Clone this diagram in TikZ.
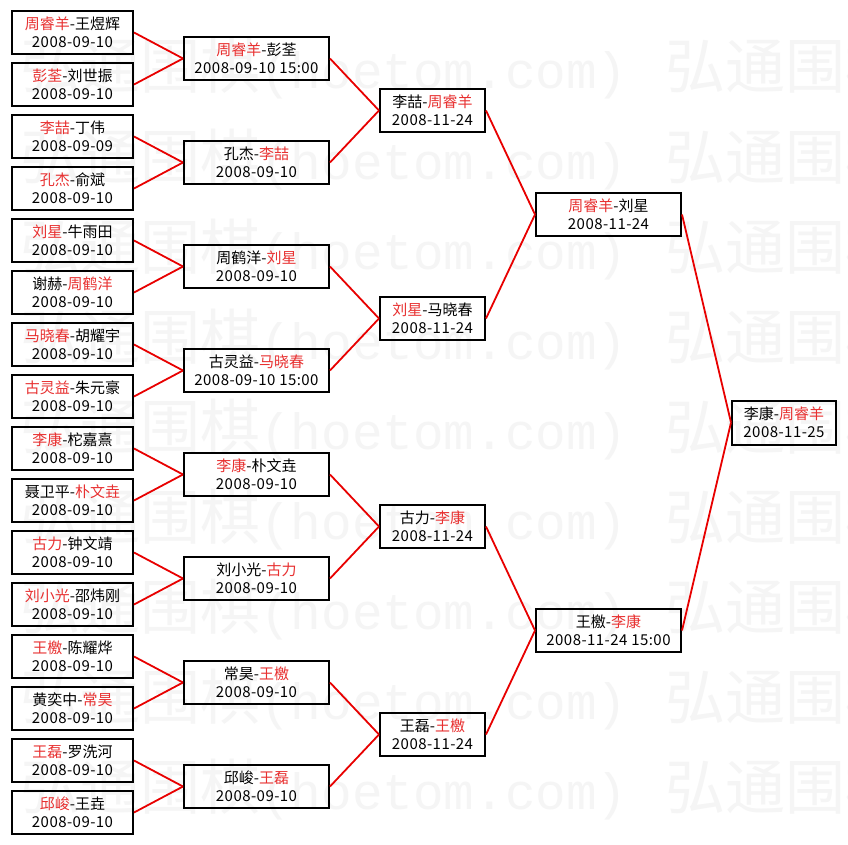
\documentclass[tikz,border=0pt]{standalone}
\usepackage{fontspec}
\setmainfont{Noto Sans CJK SC}
\newfontfamily\wmmono{Liberation Mono}
\newfontfamily\datef[LetterSpace=3]{Noto Sans CJK SC}
\definecolor{wred}{RGB}{232,48,48}
\definecolor{lred}{RGB}{232,0,0}
\definecolor{wmgray}{RGB}{245,245,245}
\newcommand\rn[1]{\textcolor{wred}{#1}}
\newcommand\dt[1]{{\datef #1}}
\begin{document}
\begin{tikzpicture}[x=1pt,y=-1pt,
  box/.style={draw=black,line width=2pt,inner sep=0pt,align=center,text=black,
    font=\fontsize{15}{18}\selectfont,minimum height=43pt},
  rA/.style={box,minimum width=121pt},
  rB/.style={box,minimum width=145pt},
  rC/.style={box,minimum width=105pt},
  rD/.style={box,minimum width=145pt},
  rE/.style={box,minimum width=104pt,minimum height=44pt},
  conn/.style={draw=lred,line width=1.8pt},
  wmcjk/.style={text=wmgray,inner sep=0pt,anchor=base west,font=\fontsize{60}{60}\selectfont},
  wmasc/.style={text=wmgray,inner sep=0pt,anchor=base west,font=\wmmono\fontsize{51}{51}\selectfont}]
\useasboundingbox (0,0) rectangle (848,845);
\fill[white] (0,0) rectangle (848,845);
% watermark
\begin{scope}
\clip (0,0) rectangle (848,845);
\foreach \r in {0,...,8}{
  \pgfmathsetmacro\wy{67+90*\r+22}
  \node[wmcjk] (wma\r) at (20,\wy) {弘通围棋};
  \node[wmasc] (wmb\r) at (260,\wy) {(hoetom.com)};
  \node[wmcjk] (wmc\r) at (665,\wy) {弘通围棋};
}
\end{scope}
% round 1
\node[rA] (a1)  at (72.5,32.5)  {\rn{周睿羊}-王煜辉\\\dt{2008-09-10}};
\node[rA] (a2)  at (72.5,84.5)  {\rn{彭荃}-刘世振\\\dt{2008-09-10}};
\node[rA] (a3)  at (72.5,136.5) {\rn{李喆}-丁伟\\\dt{2008-09-09}};
\node[rA] (a4)  at (72.5,188.5) {\rn{孔杰}-俞斌\\\dt{2008-09-10}};
\node[rA] (a5)  at (72.5,240.5) {\rn{刘星}-牛雨田\\\dt{2008-09-10}};
\node[rA] (a6)  at (72.5,292.5) {谢赫-\rn{周鹤洋}\\\dt{2008-09-10}};
\node[rA] (a7)  at (72.5,344.5) {\rn{马晓春}-胡耀宇\\\dt{2008-09-10}};
\node[rA] (a8)  at (72.5,396.5) {\rn{古灵益}-朱元豪\\\dt{2008-09-10}};
\node[rA] (a9)  at (72.5,448.5) {\rn{李康}-柁嘉熹\\\dt{2008-09-10}};
\node[rA] (a10) at (72.5,500.5) {聂卫平-\rn{朴文垚}\\\dt{2008-09-10}};
\node[rA] (a11) at (72.5,552.5) {\rn{古力}-钟文靖\\\dt{2008-09-10}};
\node[rA] (a12) at (72.5,604.5) {\rn{刘小光}-邵炜刚\\\dt{2008-09-10}};
\node[rA] (a13) at (72.5,656.5) {\rn{王檄}-陈耀烨\\\dt{2008-09-10}};
\node[rA] (a14) at (72.5,708.5) {黄奕中-\rn{常昊}\\\dt{2008-09-10}};
\node[rA] (a15) at (72.5,760.5) {\rn{王磊}-罗洗河\\\dt{2008-09-10}};
\node[rA] (a16) at (72.5,812.5) {\rn{邱峻}-王垚\\\dt{2008-09-10}};
% round 2
\node[rB] (b1) at (256.5,58.5)  {\rn{周睿羊}-彭荃\\\dt{2008-09-10 15:00}};
\node[rB] (b2) at (256.5,162.5) {孔杰-\rn{李喆}\\\dt{2008-09-10}};
\node[rB] (b3) at (256.5,266.5) {周鹤洋-\rn{刘星}\\\dt{2008-09-10}};
\node[rB] (b4) at (256.5,370.5) {古灵益-\rn{马晓春}\\\dt{2008-09-10 15:00}};
\node[rB] (b5) at (256.5,474.5) {\rn{李康}-朴文垚\\\dt{2008-09-10}};
\node[rB] (b6) at (256.5,578.5) {刘小光-\rn{古力}\\\dt{2008-09-10}};
\node[rB] (b7) at (256.5,682.5) {常昊-\rn{王檄}\\\dt{2008-09-10}};
\node[rB] (b8) at (256.5,786.5) {邱峻-\rn{王磊}\\\dt{2008-09-10}};
% round 3
\node[rC] (c1) at (432.5,110.5) {李喆-\rn{周睿羊}\\\dt{2008-11-24}};
\node[rC] (c2) at (432.5,318.5) {\rn{刘星}-马晓春\\\dt{2008-11-24}};
\node[rC] (c3) at (432.5,526.5) {古力-\rn{李康}\\\dt{2008-11-24}};
\node[rC] (c4) at (432.5,734.5) {王磊-\rn{王檄}\\\dt{2008-11-24}};
% round 4
\node[rD] (d1) at (608.5,214.5) {\rn{周睿羊}-刘星\\\dt{2008-11-24}};
\node[rD] (d2) at (608.5,630.5) {王檄-\rn{李康}\\\dt{2008-11-24 15:00}};
% final
\node[rE] (e1) at (784,422.5) {李康-\rn{周睿羊}\\\dt{2008-11-25}};
% connectors
\foreach \p/\c in {b1/a1,b1/a2,b2/a3,b2/a4,b3/a5,b3/a6,b4/a7,b4/a8,
                   b5/a9,b5/a10,b6/a11,b6/a12,b7/a13,b7/a14,b8/a15,b8/a16,
                   c1/b1,c1/b2,c2/b3,c2/b4,c3/b5,c3/b6,c4/b7,c4/b8,
                   d1/c1,d1/c2,d2/c3,d2/c4,e1/d1,e1/d2}{
  \draw[conn] (\c.east) -- (\p.west);
}
\end{tikzpicture}
\end{document}
